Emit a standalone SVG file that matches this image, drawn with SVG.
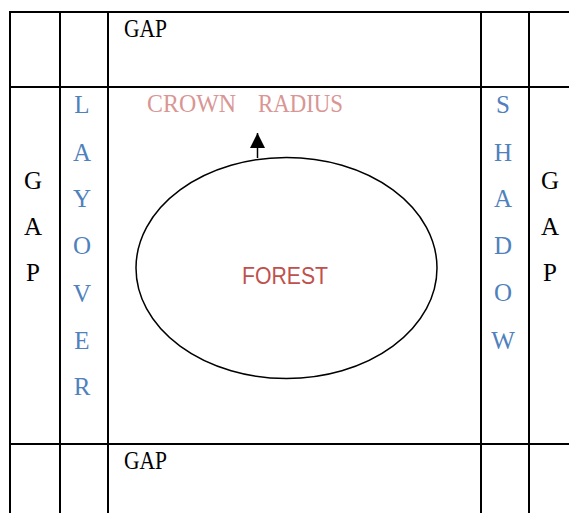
<svg xmlns="http://www.w3.org/2000/svg" width="569" height="513" viewBox="0 0 569 513">
  <style>
    .grid { stroke: #000; stroke-width: 2; fill: none; }
    .serif { font-family: "Liberation Serif", "DejaVu Serif", serif; font-size: 25px; }
    .gap { fill: #000; }
    .blue { fill: #4f81bd; text-anchor: middle; }
    .crown { fill: #d99694; }
    .forest { font-family: "Liberation Sans", Arial, sans-serif; font-size: 23px; fill: #c0504d; }
  </style>
  <defs>
    <marker id="arrowhead" viewBox="0 0 10 10" refX="10" refY="5" markerWidth="15" markerHeight="15" markerUnits="userSpaceOnUse" orient="auto">
      <path d="M0,0 L10,5 L0,10 Z" fill="#000"/>
    </marker>
  </defs>
  <rect width="569" height="513" fill="#fff"/>

  <!-- table grid -->
  <g id="grid" class="grid">
    <line x1="9" y1="12" x2="569" y2="12"/>
    <line x1="9" y1="87" x2="569" y2="87"/>
    <line x1="9" y1="444" x2="569" y2="444"/>
    <line x1="10" y1="11" x2="10" y2="513"/>
    <line x1="60" y1="11" x2="60" y2="513"/>
    <line x1="108" y1="11" x2="108" y2="513"/>
    <line x1="481" y1="11" x2="481" y2="513"/>
    <line x1="529" y1="11" x2="529" y2="513"/>
  </g>

  <g id="gap-top"><text class="serif gap" x="124" y="37" textLength="43" lengthAdjust="spacingAndGlyphs">GAP</text></g>
  <g id="gap-bottom"><text class="serif gap" x="124" y="469" textLength="43" lengthAdjust="spacingAndGlyphs">GAP</text></g>

  <g id="gap-left" class="serif gap" text-anchor="middle">
    <text x="33" y="189">G</text>
    <text x="33" y="235">A</text>
    <text x="33" y="281">P</text>
  </g>
  <g id="gap-right" class="serif gap" text-anchor="middle">
    <text x="550" y="189">G</text>
    <text x="550" y="235">A</text>
    <text x="550" y="281">P</text>
  </g>

  <g id="layover" class="serif blue">
    <text x="82" y="113">L</text>
    <text x="82" y="161">A</text>
    <text x="82" y="207">Y</text>
    <text x="82" y="254">O</text>
    <text x="82" y="302">V</text>
    <text x="82" y="349">E</text>
    <text x="82" y="395">R</text>
  </g>
  <g id="shadow" class="serif blue">
    <text x="503" y="113">S</text>
    <text x="503" y="161">H</text>
    <text x="503" y="207">A</text>
    <text x="503" y="254">D</text>
    <text x="503" y="301">O</text>
    <text x="503" y="349">W</text>
  </g>

  <g id="crown-radius" class="serif crown">
    <text x="147" y="112" textLength="89" lengthAdjust="spacingAndGlyphs">CROWN</text>
    <text x="258" y="112" textLength="85" lengthAdjust="spacingAndGlyphs">RADIUS</text>
  </g>

  <g id="forest">
    <ellipse cx="286.5" cy="268" rx="150.5" ry="110.5" fill="none" stroke="#000" stroke-width="1.5"/>
    <text class="forest" x="242" y="284" textLength="86" lengthAdjust="spacingAndGlyphs">FOREST</text>
  </g>

  <g id="connectors">
    <line x1="257.5" y1="158" x2="257.5" y2="133" stroke="#000" stroke-width="1.5" marker-end="url(#arrowhead)"/>
  </g>
</svg>
